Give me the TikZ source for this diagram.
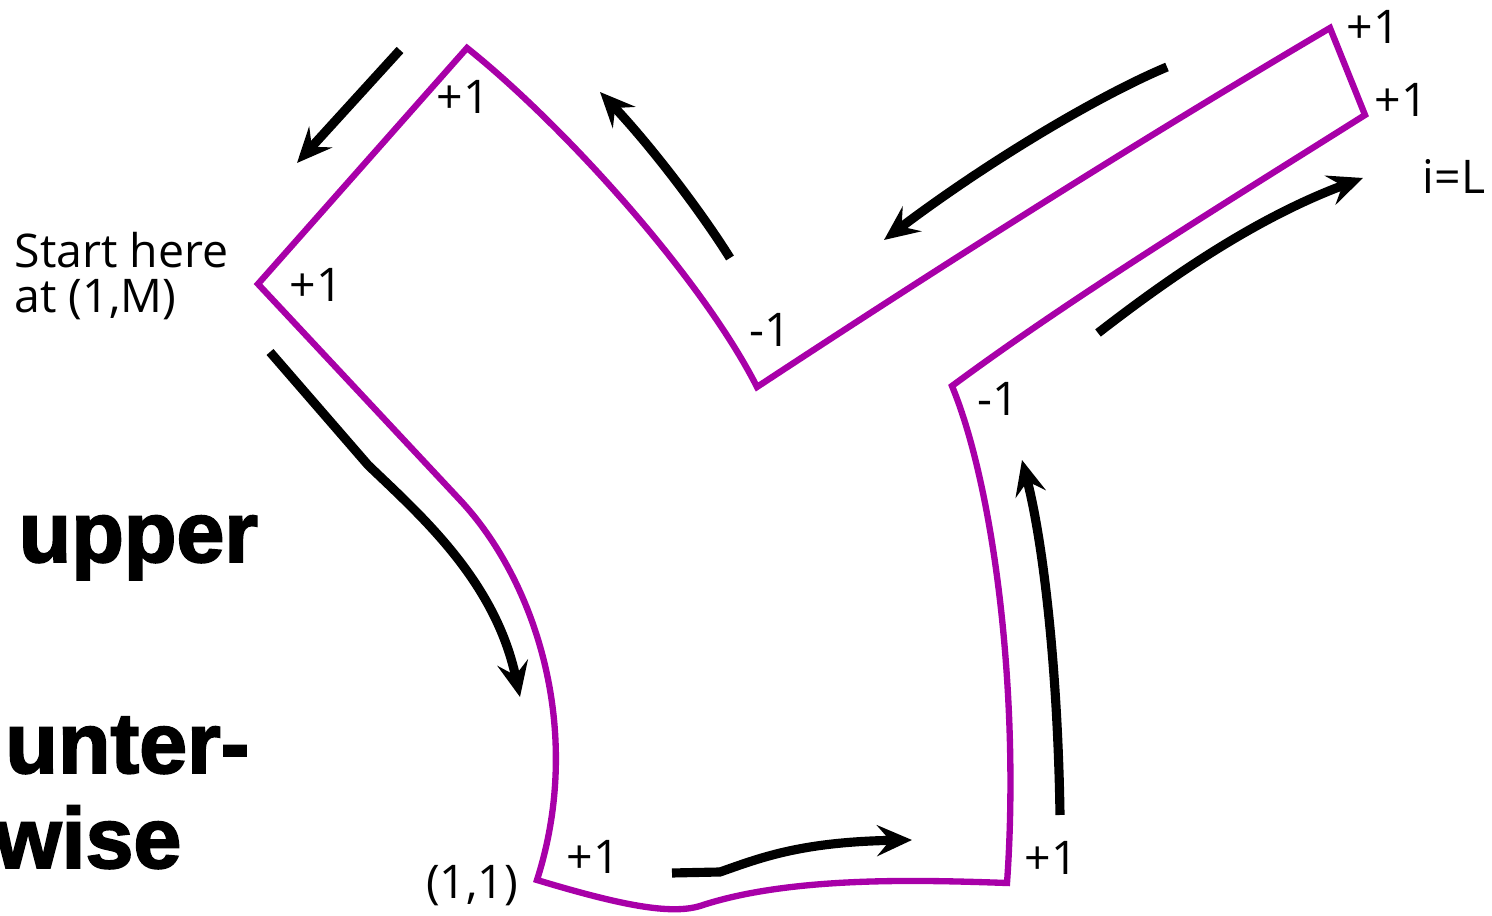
\documentclass[tikz,border=0pt]{standalone}
\usepackage{fontspec}
\newfontfamily\labelfont{Open Sans}
\newfontfamily\heavyfont[FakeBold=2.2]{Liberation Sans}
\usepackage{xcolor}
\definecolor{loopviolet}{HTML}{A800A8}
\usetikzlibrary{arrows.meta}

\begin{document}
\begin{tikzpicture}[
  x=1cm, y=-1cm,
  loopline/.style={draw=loopviolet, line width=1.8pt, line join=miter},
  flow/.style={-{Stealth[length=3.5mm, width=3.1mm, inset=1.3mm]}, line width=2.6pt},
  cnt/.style={font=\labelfont\fontsize{13.2}{13}\selectfont, inner sep=0pt},
  big/.style={font=\heavyfont\bfseries\fontsize{24.5}{24.5}\selectfont, inner sep=0pt},
]
\useasboundingbox (0,0) rectangle (14.92,9.16);
\clip (0,0) rectangle (14.92,9.16);

% ---------- corners of the boundary
\coordinate (start) at (2.58,2.84);
\coordinate (tl)    at (4.67,0.48);
\coordinate (lm)    at (7.57,3.87);
\coordinate (tip1)  at (13.30,0.28);
\coordinate (tip2)  at (13.65,1.15);
\coordinate (rm)    at (9.52,3.86);
\coordinate (br)    at (10.07,8.83);
\coordinate (orig)  at (5.37,8.80);

% ---------- the boundary, walked once round
\draw[loopline] (start) -- (tl)
  .. controls (5.6,1.22) and (7.0,2.75) .. (lm)
  .. controls (9.5,2.6) and (11.4,1.4) .. (tip1)
  -- (tip2)
  .. controls (12.27,2.02) and (10.75,2.95) .. (rm)
  .. controls (9.95,4.9) and (10.2,7.0) .. (br)
  .. controls (9.2,8.80) and (7.9,8.76) .. (7.0,9.06)
  .. controls (6.7,9.15) and (6.2,9.05) .. (orig)
  .. controls (5.85,7.3) and (5.35,5.8) .. (4.6,5.0)
  -- cycle;

% ---------- direction of travel
\draw[flow] (4.00,0.50) -- (2.97,1.63);
\draw[flow] (7.30,2.58) .. controls (7.0,2.1) and (6.5,1.45) .. (6.00,0.92);
\draw[flow] (11.67,0.67) .. controls (11.0,0.95) and (9.9,1.6) .. (8.84,2.40);
\draw[flow] (10.98,3.33) .. controls (11.6,2.85) and (12.5,2.2) .. (13.63,1.78);
\draw[flow] (10.60,8.15) .. controls (10.58,6.8) and (10.45,5.5) .. (10.22,4.60);
\draw[flow] (6.72,8.73) -- (7.20,8.72) .. controls (7.6,8.58) and (8.0,8.42) .. (9.12,8.40);
\draw[flow] (2.70,3.52) -- (3.68,4.65) .. controls (4.2,5.15) and (4.95,5.8) .. (5.20,6.97);

% ---------- corner counts
\node[cnt] (ctl)   at (4.63,0.97) {+1};
\node[cnt] (cst)   at (3.16,2.85) {+1};
\node[cnt] (clm)   at (7.70,3.30) {-1};
\node[cnt] (crm)   at (9.98,3.99) {-1};
\node[cnt] (ctip1) at (13.73,0.27) {+1};
\node[cnt] (ctip2) at (14.01,1.00) {+1};
\node[cnt] (iL)    at (14.54,1.76) {i=L};
\node[cnt] (cbr)   at (10.51,8.58) {+1};
\node[cnt] (cbl)   at (5.93,8.57) {+1};
\node[cnt] (corig) at (4.72,8.86) {(1,1)};
\node[cnt, anchor=west, align=left] (starttxt) at (0.14,2.76) {Start here\\at (1,M)};

% ---------- the cut-off words at the left edge
\node[big, anchor=base west] (w1) at (0.18,5.62) {upper};
\node[big, anchor=base east] (w2) at (2.50,7.73) {unter-};
\node[big, anchor=base east] (w3) at (1.82,8.68) {wise};
\end{tikzpicture}
\end{document}
